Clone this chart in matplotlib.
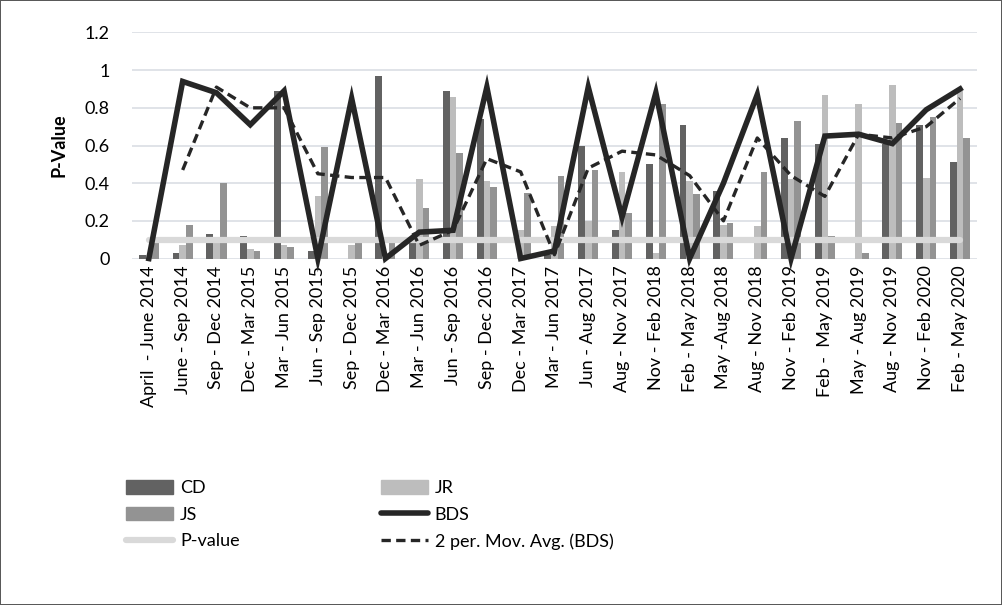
import numpy as np
import matplotlib
matplotlib.use('Agg')
from matplotlib import pyplot as plt
from matplotlib.lines import Line2D
from matplotlib.patches import Patch

plt.rcParams.update({'font.family': ['Lato', 'DejaVu Sans'], 'font.size': 13})

periods = ['April  - June 2014', 'June - Sep 2014', 'Sep - Dec 2014', 'Dec - Mar 2015',
           'Mar - Jun 2015', 'Jun - Sep 2015', 'Sep - Dec 2015', 'Dec - Mar 2016',
           'Mar - Jun 2016', 'Jun - Sep 2016', 'Sep - Dec 2016', 'Dec - Mar 2017',
           'Mar - Jun 2017', 'Jun - Aug 2017', 'Aug - Nov 2017', 'Nov - Feb 2018',
           'Feb - May 2018', 'May -Aug 2018', 'Aug - Nov 2018', 'Nov - Feb 2019',
           'Feb -  May 2019', 'May - Aug 2019', 'Aug - Nov 2019', 'Nov - Feb 2020',
           'Feb - May 2020']

cd = [0.02, 0.03, 0.13, 0.12, 0.89, 0.04, 0.00, 0.97, 0.10, 0.89, 0.74, 0.00, 0.02,
      0.60, 0.15, 0.50, 0.71, 0.36, 0.00, 0.64, 0.61, 0.00, 0.61, 0.71, 0.51]
jr = [0.02, 0.07, 0.08, 0.05, 0.07, 0.33, 0.07, 0.00, 0.42, 0.86, 0.41, 0.15, 0.17,
      0.20, 0.46, 0.03, 0.41, 0.18, 0.17, 0.42, 0.87, 0.82, 0.92, 0.43, 0.89]
js = [0.08, 0.18, 0.40, 0.04, 0.06, 0.59, 0.08, 0.08, 0.27, 0.56, 0.38, 0.35, 0.44,
      0.47, 0.24, 0.82, 0.34, 0.19, 0.46, 0.73, 0.12, 0.03, 0.72, 0.75, 0.64]
bds = [0.00, 0.94, 0.88, 0.71, 0.89, 0.00, 0.85, 0.00, 0.14, 0.15, 0.91, 0.00, 0.04,
       0.91, 0.22, 0.88, 0.00, 0.40, 0.87, 0.00, 0.65, 0.66, 0.61, 0.79, 0.90]
# 2 period moving average of BDS
bds_ma = [np.nan, 0.47, 0.91, 0.80, 0.80, 0.45, 0.43, 0.43, 0.07, 0.15, 0.53, 0.46, 0.02,
          0.48, 0.57, 0.55, 0.44, 0.20, 0.64, 0.44, 0.33, 0.66, 0.64, 0.70, 0.85]
p_value = [0.1] * len(periods)

cd_color = '#626262'
jr_color = '#bdbdbd'
js_color = '#939393'
line_color = '#262626'

fig = plt.figure(figsize=(10.02, 6.05), dpi=100)
fig.patch.set_edgecolor('#595959')
fig.patch.set_linewidth(1.2)
ax = fig.add_axes([0.1317, 0.5727, 0.8433, 0.3736])

x = np.arange(len(periods))
w = 0.198
ax.bar(x - w, cd, width=w, color=cd_color, zorder=2)
ax.bar(x, jr, width=w, color=jr_color, zorder=2)
ax.bar(x + w, js, width=w, color=js_color, zorder=2)

ax.plot(x, p_value, color='#d9d9d9', linewidth=4.5, solid_capstyle='round', zorder=3)
ax.plot(x, bds, color=line_color, linewidth=4.0, solid_joinstyle='miter', zorder=4, clip_on=False)
ax.plot(x, bds_ma, color=line_color, linewidth=2.4, linestyle=(0, (2.8, 1.6)), zorder=5, clip_on=False)

ax.set_xlim(-0.5, len(periods) - 0.5)
ax.set_ylim(0, 1.2)
ax.set_yticks(np.arange(0, 1.21, 0.2))
ax.set_yticklabels(['0', '0.2', '0.4', '0.6', '0.8', '1', '1.2'])
ax.set_xticks(x)
ax.set_xticklabels(periods, rotation=90, va='top', ha='center')
ax.tick_params(length=0, pad=5)
ax.tick_params(axis='y', pad=16)
for spine in ax.spines.values():
    spine.set_visible(False)
ax.grid(axis='y', color='#dde1e6', linewidth=1.3, zorder=0)
ax.set_axisbelow(True)
ax.set_ylabel('P-Value', fontweight='bold', labelpad=12)

handles = [Patch(color=cd_color), Patch(color=js_color),
           Line2D([], [], color='#d9d9d9', linewidth=4.5, solid_capstyle='round'),
           Patch(color=jr_color),
           Line2D([], [], color=line_color, linewidth=4.0, solid_capstyle='round'),
           Line2D([], [], color=line_color, linewidth=2.4, linestyle=(0, (2.8, 1.6)))]
labels = ['CD', 'JS', 'P-value', 'JR', 'BDS', '2 per. Mov. Avg. (BDS)']
fig.legend(handles, labels, ncol=2, loc='upper left', bbox_to_anchor=(0.1257, 0.2066),
           frameon=False, borderpad=0, borderaxespad=0, handlelength=2.6, handleheight=0.8,
           handletextpad=0.4, labelspacing=0.58, columnspacing=7.8)

fig.savefig('out.png', dpi=100, edgecolor=fig.get_edgecolor())
